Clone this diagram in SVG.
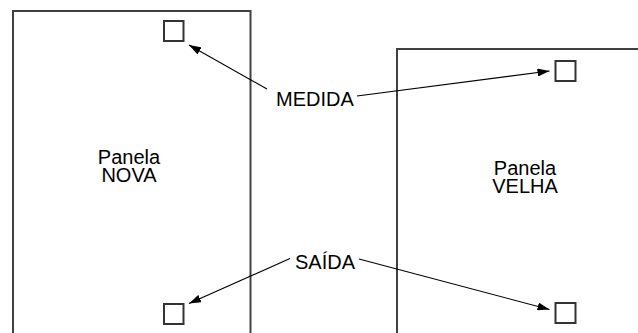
<svg xmlns="http://www.w3.org/2000/svg" width="638" height="333" viewBox="0 0 638 333">
  <style>
    .panel { fill: none; stroke: #404040; stroke-width: 2; }
    .port { fill: #ffffff; stroke: #333333; stroke-width: 2; }
    .conn { fill: none; stroke: #000000; stroke-width: 1.1; marker-end: url(#arrow); }
    .lbl { font-family: "Liberation Sans", Arial, sans-serif; font-size: 20px; fill: #000000; text-anchor: middle; }
  </style>
  <defs>
    <marker id="arrow" viewBox="0 0 12 8" refX="12" refY="4" markerWidth="12" markerHeight="8" markerUnits="userSpaceOnUse" orient="auto">
      <path d="M0,0 L12,4 L0,8 Z" fill="#000000"/>
    </marker>
  </defs>
  <rect width="638" height="333" fill="#ffffff"/>

  <g id="panela-nova">
    <rect class="panel" x="13" y="11" width="237.5" height="340"/>
    <text class="lbl" x="129" y="164">Panela</text>
    <text class="lbl" x="129" y="182">NOVA</text>
  </g>
  <g id="panela-velha">
    <rect class="panel" x="397" y="49" width="260" height="300"/>
    <text class="lbl" x="525" y="175">Panela</text>
    <text class="lbl" x="525" y="192.5">VELHA</text>
  </g>

  <g id="nova-medida"><rect class="port" x="164" y="21" width="19.5" height="20"/></g>
  <g id="nova-saida"><rect class="port" x="164" y="304" width="19.5" height="20"/></g>
  <g id="velha-medida"><rect class="port" x="555.5" y="61" width="20" height="20"/></g>
  <g id="velha-saida"><rect class="port" x="555.5" y="303" width="20" height="20"/></g>

  <g id="label-medida"><text class="lbl" x="315" y="105.5">MEDIDA</text></g>
  <g id="label-saida"><text class="lbl" x="325" y="269">SAÍDA</text></g>

  <g id="connectors">
    <line class="conn" x1="267" y1="89" x2="189" y2="45"/>
    <line class="conn" x1="357" y1="96" x2="549.5" y2="71"/>
    <line class="conn" x1="290" y1="258.5" x2="189" y2="303.5"/>
    <line class="conn" x1="359" y1="259" x2="549.5" y2="309.5"/>
  </g>
</svg>
